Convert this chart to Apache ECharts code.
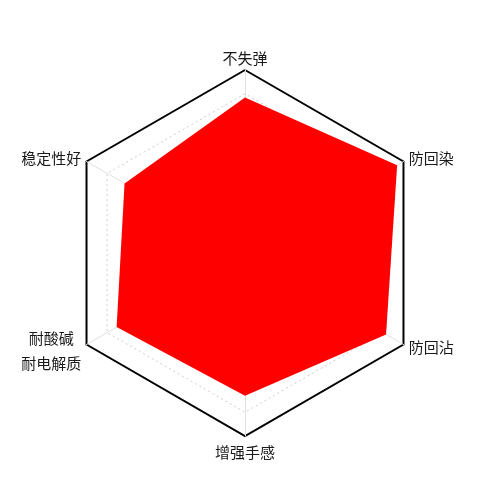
<!DOCTYPE html>
<html>
<head>
<meta charset="utf-8">
<script src="https://cdn.jsdelivr.net/npm/echarts@6/dist/echarts.min.js"></script>
<style>
html,body{margin:0;padding:0;background:#fff;}
#main{width:500px;height:498px;}
</style>
</head>
<body>
<div id="main"></div>
<script>
// ECharts radar runs counter-clockwise from the top, so indicators are listed in that order
var indicatorNames = ['不失弹', '稳定性好', '耐酸碱\n耐电解质', '增强手感', '防回沾', '防回染'];
var indicatorMax = 100;
var seriesValues = [85, 76, 81, 78, 89, 96];

var chart = echarts.init(document.getElementById('main'));
var center = [245, 253];
var R = 183;
var font = 'Noto Sans CJK SC';
var txt = '#1a1a1a';
chart.setOption({
  animation: false,
  radar: [{
    center: center,
    radius: R,
    startAngle: 90,
    splitNumber: 1,
    shape: 'polygon',
    nameGap: 6,
    indicator: indicatorNames.map(function (n) { return { name: n, max: indicatorMax, min: 0 }; }),
    axisName: {
      color: txt,
      fontSize: 15,
      fontFamily: font,
      formatter: function (name) {
        var idx = indicatorNames.indexOf(name);
        var lines = name.split('\n');
        if (lines.length > 1) {
          return '{m1|' + lines[0] + '}\n{m2|' + lines[1] + '}';
        }
        if (idx === 0) return '{t|' + name + '}';
        if (idx === 3) return '{b|' + name + '}';
        return '{a|' + name + '}';
      },
      rich: {
        a: { fontSize: 15, lineHeight: 20, color: txt, fontFamily: font },
        t: { fontSize: 15, lineHeight: 12, color: txt, fontFamily: font },
        b: { fontSize: 15, lineHeight: 21, color: txt, fontFamily: font },
        m1: { align: 'center', fontSize: 15, lineHeight: 31, color: txt, fontFamily: font },
        m2: { align: 'center', fontSize: 15, lineHeight: 19, color: txt, fontFamily: font }
      }
    },
    axisLine: { show: true, lineStyle: { color: '#e0e0e0', width: 1 } },
    splitLine: { show: true, lineStyle: { color: '#000', width: 2 } },
    splitArea: { show: false }
  }, {
    center: center,
    radius: R * 0.87,
    startAngle: 90,
    splitNumber: 1,
    shape: 'polygon',
    indicator: indicatorNames.map(function (n) { return { name: '', max: indicatorMax, min: 0 }; }),
    axisName: { show: false },
    axisLine: { show: false },
    splitLine: { show: true, lineStyle: { color: '#ccc', width: 1, type: [2, 3] } },
    splitArea: { show: false }
  }],
  series: [{
    type: 'radar',
    radarIndex: 0,
    symbol: 'none',
    z: 5,
    data: [{
      value: seriesValues,
      lineStyle: { width: 0, color: '#ff0000' },
      areaStyle: { color: '#ff0000', opacity: 1 }
    }]
  }]
});
</script>
</body>
</html>
